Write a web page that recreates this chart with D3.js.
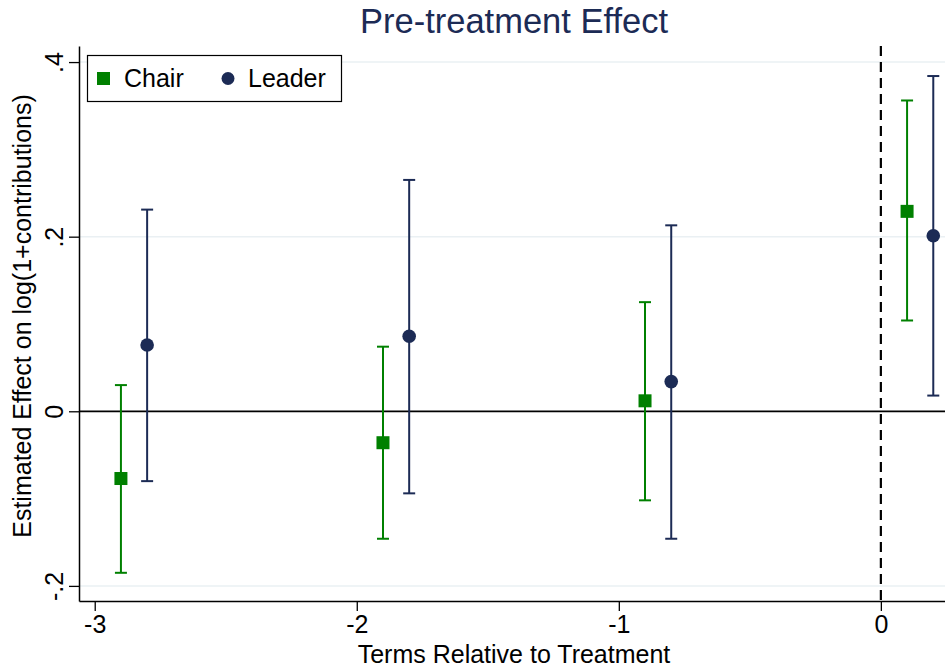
<!DOCTYPE html>
<html>
<head>
<meta charset="utf-8">
<script src="https://cdn.jsdelivr.net/npm/d3@7"></script>
<style>
  body { margin: 0; background: #fff; }
  text { font-family: "Liberation Sans", Arial, Helvetica, sans-serif; }
</style>
</head>
<body>
<svg id="chart"></svg>
<script>
// data
var series = ["Chair", "Leader"];
var terms = [-3, -2, -1, 0];
var offsets = [0.1, 0.2];            // horizontal shift of each series
var chairEst = [-0.077, -0.036, 0.012, 0.229];
var chairLo  = [-0.185, -0.146, -0.102, 0.104];
var chairHi  = [0.030, 0.074, 0.125, 0.356];
var leaderEst = [0.076, 0.086, 0.034, 0.201];
var leaderLo  = [-0.080, -0.094, -0.146, 0.018];
var leaderHi  = [0.231, 0.265, 0.213, 0.384];
var yTicks = [-0.2, 0, 0.2, 0.4];
var yTickLabels = ["-.2", "0", ".2", ".4"];

var colors = ["#008000", "#1c2b55"];

var w = 945, h = 671;
var svg = d3.select("#chart").attr("width", w).attr("height", h);

// plot region (note: "top" is taken by window.top)
var pLeft = 79, pRight = 949, pTop = 46, pBottom = 601;

var x = d3.scaleLinear().domain([-3.06, 0.26]).range([pLeft, pRight]);
var y = d3.scaleLinear().domain([-0.2173, 0.4184]).range([pBottom, pTop]);

// build rows
var rows = [];
terms.forEach(function(t, i) {
  rows.push({s: 0, x: t + offsets[0], est: chairEst[i], lo: chairLo[i], hi: chairHi[i]});
  rows.push({s: 1, x: t + offsets[1], est: leaderEst[i], lo: leaderLo[i], hi: leaderHi[i]});
});

// gridlines
svg.append("g").selectAll("line")
  .data(yTicks.filter(function(d) { return d !== 0; }))
  .enter().append("line")
  .attr("x1", pLeft).attr("x2", w)
  .attr("y1", function(d) { return y(d); })
  .attr("y2", function(d) { return y(d); })
  .attr("stroke", "#eaf0f3").attr("stroke-width", 1.5);

// zero line
svg.append("line")
  .attr("x1", pLeft).attr("x2", w)
  .attr("y1", y(0)).attr("y2", y(0))
  .attr("stroke", "#000").attr("stroke-width", 1.8);

// treatment line
svg.append("line")
  .attr("x1", x(0)).attr("x2", x(0))
  .attr("y1", pTop).attr("y2", pBottom)
  .attr("stroke", "#000").attr("stroke-width", 2.2)
  .attr("stroke-dasharray", "10,6");

// axes
var yAxis = d3.axisLeft(y).tickValues(yTicks)
  .tickFormat(function(d, i) { return yTickLabels[i]; })
  .tickSize(10).tickSizeOuter(0);
var gy = svg.append("g").attr("transform", "translate(" + pLeft + ",0)").call(yAxis);
gy.attr("font-size", null).attr("font-family", null);
gy.select(".domain").attr("stroke", "#000").attr("stroke-width", 1.5);
gy.selectAll(".tick line").attr("stroke", "#000").attr("stroke-width", 1.3);
gy.selectAll(".tick text")
  .attr("transform", "rotate(-90,-16,0)")
  .attr("x", -16).attr("dy", "0")
  .attr("text-anchor", "middle")
  .style("font-size", "25px").attr("fill", "#000");

var xAxis = d3.axisBottom(x).tickValues(terms)
  .tickFormat(d3.format("d")).tickSize(10).tickSizeOuter(0);
var gx = svg.append("g").attr("transform", "translate(0," + pBottom + ")").call(xAxis);
gx.attr("font-size", null).attr("font-family", null);
gx.select(".domain").attr("stroke", "#000").attr("stroke-width", 1.5);
gx.selectAll(".tick line").attr("stroke", "#000").attr("stroke-width", 1.3);
gx.selectAll(".tick text").attr("y", 14).attr("dy", "0.71em")
  .style("font-size", "25px").attr("fill", "#000")
  .text(function(d) { return d < 0 ? "-" + Math.abs(d) : d; });

// error bars
var bars = svg.append("g").selectAll("g").data(rows).enter().append("g")
  .attr("stroke", function(d) { return colors[d.s]; })
  .attr("stroke-width", 2);
bars.append("line")
  .attr("x1", function(d) { return x(d.x); }).attr("x2", function(d) { return x(d.x); })
  .attr("y1", function(d) { return y(d.lo); }).attr("y2", function(d) { return y(d.hi); });
bars.append("line")
  .attr("x1", function(d) { return x(d.x) - 6; }).attr("x2", function(d) { return x(d.x) + 6; })
  .attr("y1", function(d) { return y(d.lo); }).attr("y2", function(d) { return y(d.lo); });
bars.append("line")
  .attr("x1", function(d) { return x(d.x) - 6; }).attr("x2", function(d) { return x(d.x) + 6; })
  .attr("y1", function(d) { return y(d.hi); }).attr("y2", function(d) { return y(d.hi); });

// markers
svg.append("g").selectAll("rect").data(rows.filter(function(d) { return d.s === 0; }))
  .enter().append("rect")
  .attr("x", function(d) { return x(d.x) - 6.5; })
  .attr("y", function(d) { return y(d.est) - 6.5; })
  .attr("width", 13).attr("height", 13)
  .attr("fill", colors[0]);
svg.append("g").selectAll("circle").data(rows.filter(function(d) { return d.s === 1; }))
  .enter().append("circle")
  .attr("cx", function(d) { return x(d.x); })
  .attr("cy", function(d) { return y(d.est); })
  .attr("r", 6.8)
  .attr("fill", colors[1]);

// legend
var lg = svg.append("g");
lg.append("rect").attr("x", 87.5).attr("y", 55.5).attr("width", 254).attr("height", 46)
  .attr("fill", "#fff").attr("stroke", "#000").attr("stroke-width", 1.2);
lg.append("rect").attr("x", 97).attr("y", 72).attr("width", 13).attr("height", 13).attr("fill", colors[0]);
lg.append("text").attr("x", 124).attr("y", 87).style("font-size", "25px").text(series[0]);
lg.append("circle").attr("cx", 228).attr("cy", 78.5).attr("r", 6.5).attr("fill", colors[1]);
lg.append("text").attr("x", 248).attr("y", 87).style("font-size", "25px").text(series[1]);

// titles
svg.append("text").attr("x", 514).attr("y", 33).attr("text-anchor", "middle")
  .style("font-size", "34.5px").attr("fill", "#1c2b55").text("Pre-treatment Effect");
svg.append("text").attr("x", 514).attr("y", 663).attr("text-anchor", "middle")
  .style("font-size", "25px").attr("fill", "#000").text("Terms Relative to Treatment");
svg.append("text").attr("transform", "translate(31,316) rotate(-90)")
  .attr("text-anchor", "middle").style("font-size", "25px").attr("fill", "#000")
  .text("Estimated Effect on log(1+contributions)");
</script>
</body>
</html>
